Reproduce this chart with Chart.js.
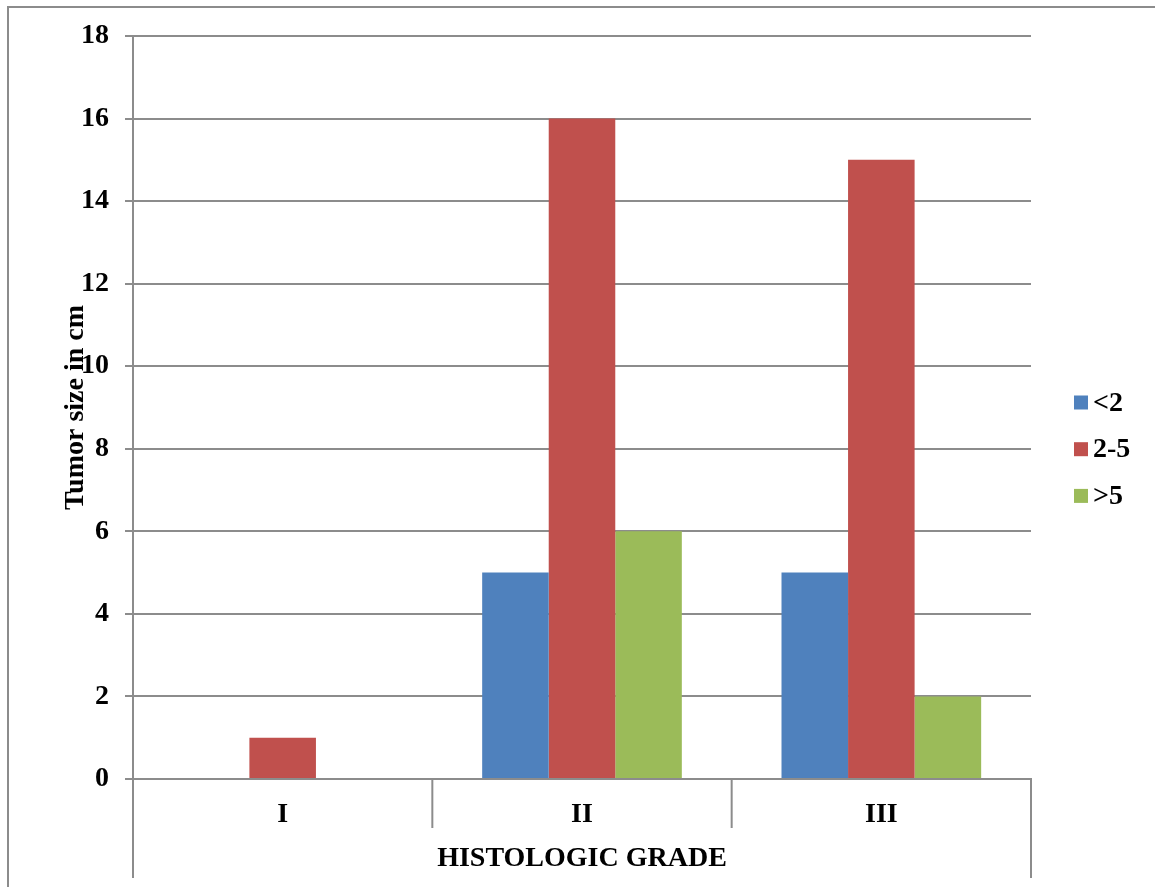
<!DOCTYPE html>
<html>
<head>
<meta charset="utf-8">
<script src="https://cdn.jsdelivr.net/npm/chart.js@4.4.1/dist/chart.umd.min.js"></script>
<style>
  html, body { margin: 0; padding: 0; background: #ffffff; }
  canvas { display: block; }
</style>
</head>
<body>
<canvas id="chart" width="1155" height="887"></canvas>
<script>
// Histologic grade vs. tumour size groups
const categories = ['I', 'II', 'III'];
const seriesNames = ['<2', '2-5', '>5'];
const sizeUnder2 = [0, 5, 5];
const size2to5 = [1, 16, 15];
const sizeOver5 = [0, 6, 2];
const seriesColors = ['#4F81BD', '#C0504D', '#9BBB59'];
const yTickMin = 0;
const yTickMax = 18;
const yTickStep = 2;
const xAxisTitle = 'HISTOLOGIC GRADE';
const yAxisTitle = 'Tumor size in cm';

const FONT = "'Liberation Serif', 'Times New Roman', serif";
const FONT_SIZE = 28;
const LINE = '#8c8c8c';

// Outer frame, category separators and the lower box under the axis
const framePlugin = {
  id: 'frame',
  afterDraw(chart) {
    const ctx = chart.ctx;
    const area = chart.chartArea;
    const x = chart.scales.x;
    ctx.save();
    ctx.strokeStyle = LINE;
    ctx.lineWidth = 2;
    // page frame
    ctx.beginPath();
    ctx.moveTo(8, chart.height);
    ctx.lineTo(8, 7);
    ctx.lineTo(chart.width, 7);
    ctx.stroke();
    // outer box edges below the category axis
    ctx.beginPath();
    ctx.moveTo(area.left, area.bottom);
    ctx.lineTo(area.left, area.bottom + 99);
    ctx.moveTo(area.right, area.bottom);
    ctx.lineTo(area.right, area.bottom + 99);
    // separators between categories
    for (let i = 0; i < categories.length - 1; i++) {
      const sx = (x.getPixelForValue(i) + x.getPixelForValue(i + 1)) / 2;
      ctx.moveTo(sx, area.bottom);
      ctx.lineTo(sx, area.bottom + 49);
    }
    ctx.stroke();
    ctx.restore();
  }
};

// Legend column on the right
const sideLegend = {
  id: 'sideLegend',
  afterDraw(chart) {
    const ctx = chart.ctx;
    const sets = chart.data.datasets;
    const boxX = 1074, textX = 1093, startY = 402.5, gap = 46.7, box = 14;
    ctx.save();
    ctx.font = 'bold ' + FONT_SIZE + 'px ' + FONT;
    ctx.textBaseline = 'middle';
    ctx.textAlign = 'left';
    sets.forEach((ds, i) => {
      const cy = startY + i * gap;
      ctx.fillStyle = ds.backgroundColor;
      ctx.fillRect(boxX, cy - box / 2, box, box);
      ctx.fillStyle = '#000000';
      ctx.fillText(ds.label, textX, cy + 1);
    });
    ctx.restore();
  }
};

const dataSeries = [sizeUnder2, size2to5, sizeOver5];
const boldFont = { family: FONT, size: FONT_SIZE, weight: 'bold' };

new Chart(document.getElementById('chart'), {
  type: 'bar',
  data: {
    labels: categories,
    datasets: seriesNames.map((name, i) => ({
      label: name,
      data: dataSeries[i],
      backgroundColor: seriesColors[i],
      borderWidth: 0,
      categoryPercentage: 0.667,
      barPercentage: 1.0
    }))
  },
  options: {
    responsive: false,
    animation: false,
    devicePixelRatio: 1,
    layout: { padding: { left: 0, top: 36, right: 124, bottom: 0 } },
    plugins: {
      legend: { display: false },
      tooltip: { enabled: false }
    },
    scales: {
      x: {
        grid: { display: false },
        border: { display: true, color: LINE, width: 2 },
        ticks: {
          color: '#000000',
          font: boldFont,
          padding: 11,
          maxRotation: 0
        },
        title: {
          display: true,
          text: xAxisTitle,
          color: '#000000',
          font: boldFont,
          padding: { top: 0, bottom: 11 }
        },
        afterFit(scale) { scale.height = 108; }
      },
      y: {
        min: yTickMin,
        max: yTickMax,
        grid: { color: LINE, lineWidth: 2, tickLength: 8, drawTicks: true },
        border: { display: true, color: LINE, width: 2 },
        ticks: {
          stepSize: yTickStep,
          color: '#000000',
          font: boldFont,
          padding: 16
        },
        title: {
          display: true,
          text: yAxisTitle,
          color: '#000000',
          font: boldFont,
          padding: { top: 59, bottom: 0 }
        },
        afterFit(scale) { scale.width = 133; }
      }
    }
  },
  plugins: [framePlugin, sideLegend]
});
</script>
</body>
</html>
